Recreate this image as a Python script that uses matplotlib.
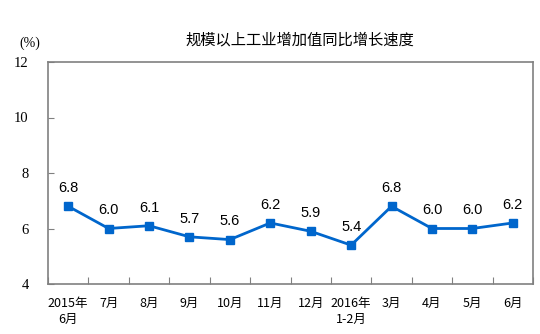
import numpy as np
import matplotlib
matplotlib.use("Agg")
from matplotlib import pyplot as plt

plt.rcParams['font.family'] = ['Noto Sans CJK SC', 'DejaVu Sans']

# data
months = ['2015年\n6月', '7月', '8月', '9月', '10月', '11月', '12月',
          '2016年\n1-2月', '3月', '4月', '5月', '6月']
growth = [6.8, 6.0, 6.1, 5.7, 5.6, 6.2, 5.9, 5.4, 6.8, 6.0, 6.0, 6.2]
yticks = [4, 6, 8, 10, 12]

fig = plt.figure(figsize=(5.4, 3.34), dpi=100, facecolor='w')
ax = fig.add_axes([48/540, 1-284/334, 485/540, 222/334])

x = np.arange(len(growth))
ax.plot(x, growth, '-s', color='#0066CC', linewidth=2.0, markersize=6)
for xi, v in zip(x, growth):
    ax.annotate('%.1f' % v, (xi, v), xytext=(0, 8), textcoords='offset points',
                ha='center', va='bottom', fontsize=10.5, family='Liberation Sans')

ax.set_xlim(-0.5, len(growth) - 0.5)
ax.set_ylim(4, 12)
ax.set_yticks(yticks)
ax.set_yticklabels([str(t) for t in yticks], family='Liberation Serif', fontsize=10.5)
ax.set_xticks(np.arange(len(growth) + 1) - 0.5)
ax.set_xticklabels([])
ax.set_xticks(x, minor=True)
ax.set_xticklabels(months, minor=True, fontsize=9, linespacing=1.3, va='top')
ax.tick_params(axis='x', which='minor', length=0, pad=9)
ax.tick_params(axis='x', which='major', direction='in', length=5, color='#808080')
ax.tick_params(axis='y', direction='in', length=4, color='#808080', pad=14)
for s in ax.spines.values():
    s.set_color('#808080')
    s.set_linewidth(1.2)

fig.text(300/540, 1-40/334, '规模以上工业增加值同比增长速度', ha='center', va='center', fontsize=11)
fig.text(30/540, 1-43/334, '(%)', ha='center', va='center', fontsize=10, family='Liberation Serif')

fig.savefig('out.png', dpi=100)
